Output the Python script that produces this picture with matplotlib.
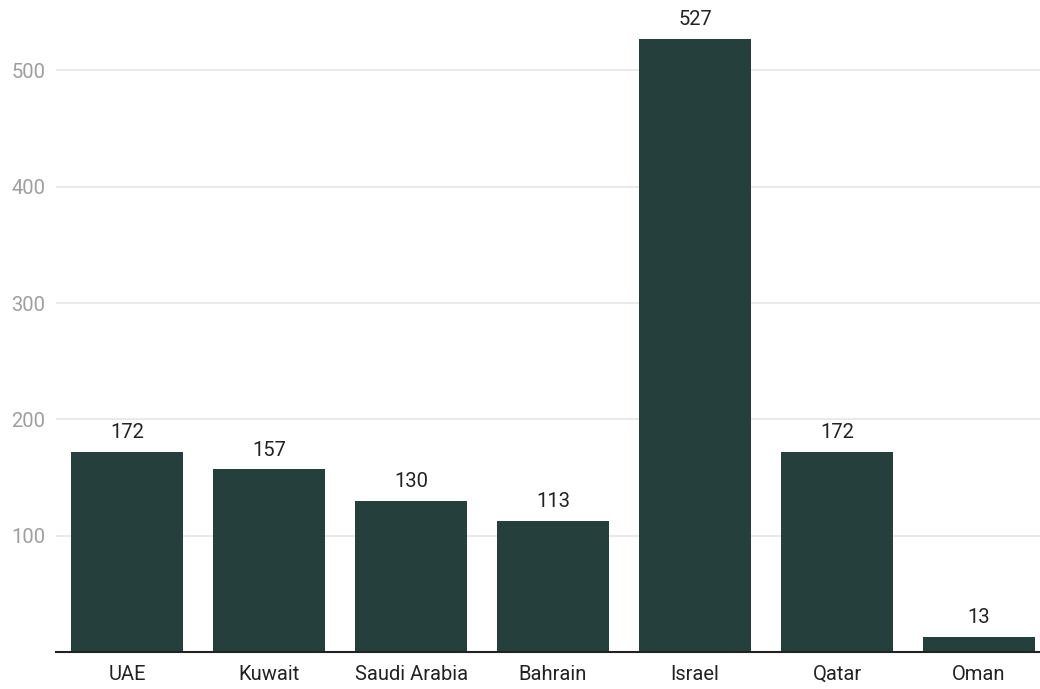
import matplotlib.pyplot as plt

countries = ['UAE', 'Kuwait', 'Saudi Arabia', 'Bahrain', 'Israel', 'Qatar', 'Oman']
values = [172, 157, 130, 113, 527, 172, 13]

plt.rcParams['font.family'] = ['Roboto', 'DejaVu Sans']

fig = plt.figure(figsize=(10.4, 6.89), dpi=100)
ax = fig.add_axes([0.054, 0.0537, 0.946, 0.932])

x = range(len(countries))
bars = ax.bar(x, values, width=0.79, color='#243f3c', zorder=3)
for xi, v in zip(x, values):
    ax.annotate(str(v), (xi, v), xytext=(0, 7), textcoords='offset points',
                ha='center', va='bottom', fontsize=14.5, color='#222222')

ax.set_xlim(-0.5, 6.43)
ax.set_ylim(0, 552)
ax.set_yticks([100, 200, 300, 400, 500])
ax.set_xticks(list(x))
ax.set_xticklabels(countries, fontsize=14.5, color='#222222')
ax.tick_params(axis='y', labelsize=14.5, labelcolor='#9e9e9e', length=0, pad=8)
ax.tick_params(axis='x', length=0, pad=9)
ax.grid(axis='y', color='#e6e6e6', linewidth=1.2, zorder=0)
for s in ['top', 'right', 'left']:
    ax.spines[s].set_visible(False)
ax.spines['bottom'].set_color('#222222')
ax.spines['bottom'].set_linewidth(1.5)
ax.spines['bottom'].set_zorder(4)

fig.savefig('out.png', dpi=100)
